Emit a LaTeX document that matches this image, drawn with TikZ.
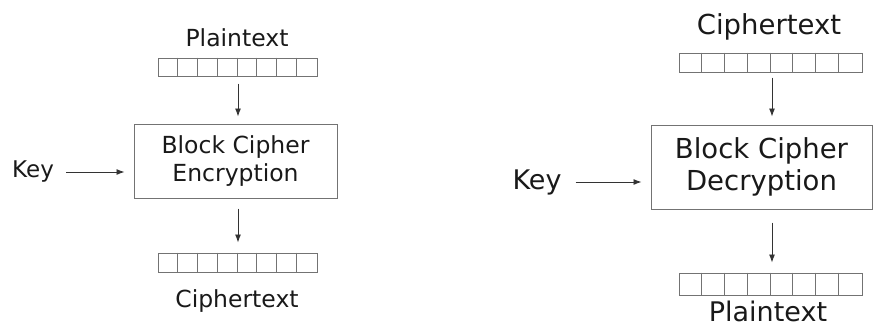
\documentclass[tikz,border=0pt]{standalone}
\usepackage{fontspec}
\setmainfont{DejaVu Sans}
\usetikzlibrary{arrows.meta}
\begin{document}
\begin{tikzpicture}[x=1pt,y=-1pt,
  lbl/.style={inner sep=0pt, text=black!90},
  cipherbox/.style={draw=black!55, line width=1pt, inner sep=0pt, align=center, text=black!90},
  reg/.style={draw=black!55, line width=1pt, inner sep=0pt},
  flow/.style={draw=black!80, line width=0.9pt, -{Latex[length=8pt,width=6pt]}}]
\useasboundingbox (0,0) rectangle (874,327);
% ---------- Encryption ----------
\node[lbl, font=\fontsize{23.5}{28}\selectfont] (ptxt) at (237,38) {Plaintext};
\node[reg, minimum width=159pt, minimum height=18pt] (rtop) at (237.5,67) {};
\foreach \i in {1,...,7}{\draw[black!55, line width=1pt] ([xshift=\i*159/8 pt]rtop.north west) -- ([xshift=\i*159/8 pt]rtop.south west);}
\node[cipherbox, minimum width=203pt, minimum height=74pt, font=\fontsize{23.5}{28}\selectfont] (enc) at (235.5,161) {Block Cipher\\Encryption};
\node[lbl, font=\fontsize{23}{28}\selectfont] (key1) at (33,172) {Key};
\node[reg, minimum width=159pt, minimum height=19pt] (rbot) at (237.5,262.5) {};
\foreach \i in {1,...,7}{\draw[black!55, line width=1pt] ([xshift=\i*159/8 pt]rbot.north west) -- ([xshift=\i*159/8 pt]rbot.south west);}
\node[lbl, font=\fontsize{23.5}{28}\selectfont] (ctxt) at (237,301) {Ciphertext};
\draw[flow, shorten <=7pt, shorten >=7pt] (rtop.south -| 238,0) -- (enc.north -| 238,0);
\draw[flow, shorten <=10pt, shorten >=10pt] (enc.south -| 238,0) -- (rbot.north -| 238,0);
\draw[flow, shorten <=12pt, shorten >=9pt] (key1.east) -- (enc.west |- key1.east);
% ---------- Decryption ----------
\node[lbl, font=\fontsize{27.5}{32}\selectfont] (ctxt2) at (769,27) {Ciphertext};
\node[reg, minimum width=183pt, minimum height=19pt] (rtop2) at (770.5,62.5) {};
\foreach \i in {1,...,7}{\draw[black!55, line width=1pt] ([xshift=\i*183/8 pt]rtop2.north west) -- ([xshift=\i*183/8 pt]rtop2.south west);}
\node[cipherbox, minimum width=221pt, minimum height=84pt, font=\fontsize{27.5}{32}\selectfont] (dec) at (761.5,167) {Block Cipher\\Decryption};
\node[lbl, font=\fontsize{27}{32}\selectfont] (key2) at (537,182) {Key};
\node[reg, minimum width=183pt, minimum height=22pt] (rbot2) at (770.5,284) {};
\foreach \i in {1,...,7}{\draw[black!55, line width=1pt] ([xshift=\i*183/8 pt]rbot2.north west) -- ([xshift=\i*183/8 pt]rbot2.south west);}
\node[lbl, font=\fontsize{27}{32}\selectfont] (ptxt2) at (768,311) {Plaintext};
\draw[flow, shorten <=5pt, shorten >=8pt] (rtop2.south -| 772,0) -- (dec.north -| 772,0);
\draw[flow, shorten <=13pt, shorten >=10pt] (dec.south -| 772,0) -- (rbot2.north -| 772,0);
\draw[flow, shorten <=14pt, shorten >=9pt] (key2.east) -- (dec.west |- key2.east);
\end{tikzpicture}
\end{document}
